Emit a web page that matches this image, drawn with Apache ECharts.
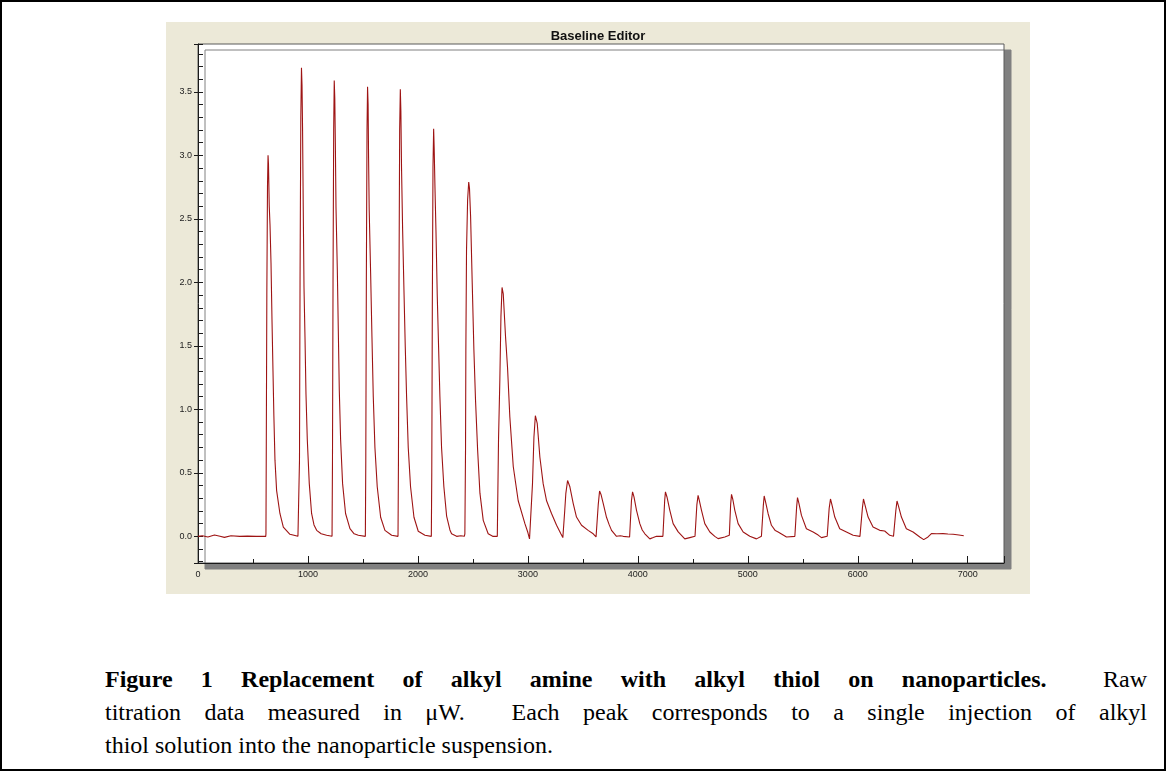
<!DOCTYPE html>
<html><head><meta charset="utf-8">
<script src="https://cdn.jsdelivr.net/npm/echarts@6/dist/echarts.min.js"></script>
<style>
html,body{margin:0;padding:0;background:#fff;width:1166px;height:771px;overflow:hidden;}
#frame{position:absolute;left:0;top:0;width:1166px;height:771px;box-sizing:border-box;border:2px solid #000;}
#panel{position:absolute;left:166px;top:22px;width:864px;height:572px;background:#ECE9D8;}
#chart{position:absolute;left:0;top:0;width:864px;height:572px;}
#caption{position:absolute;left:105px;top:663px;width:1042px;font-family:"Liberation Serif","Times New Roman",serif;font-size:24px;line-height:33px;color:#000;}
.j{text-align:justify;text-align-last:justify;}
</style></head>
<body>
<div id="frame"></div>
<div id="panel"><div id="chart"></div></div>
<div id="caption">
<div class="j"><b>Figure 1 Replacement of alkyl amine with alkyl thiol on nanoparticles.</b>&nbsp; Raw</div>
<div class="j">titration data measured in μW.&nbsp; Each peak corresponds to a single injection of alkyl</div>
<div>thiol solution into the nanoparticle suspension.</div>
</div>
<script>
// Time (s) and heat flow (µW)
const timeSec = [
0,40,90,150,200,240,300,380,450,530,616,
618,621,626,632,637,641,648,655,664,673,682,690,700,715,745,776,836,909,919,
921,923,928,935,941,946,951,957,964,973,982,994,1012,1033,1055,1079,1120,1170,1219,
1221,1223,1228,1234,1239,1244,1249,1255,1267,1276,1285,1297,1315,1342,1382,1420,1458,1522,
1524,1526,1531,1537,1542,1547,1551,1557,1570,1582,1594,1609,1630,1661,1700,1761,1819,
1821,1823,1828,1834,1840,1845,1851,1861,1873,1885,1897,1912,1933,1964,2003,2064,2122,
2124,2126,2131,2137,2143,2148,2155,2164,2176,2188,2200,2215,2236,2261,2291,2306,2352,2390,2422,
2427,2433,2436,2442,2452,2462,2469,2479,2494,2509,2524,2543,2564,2594,2639,2680,2722,
2724,2733,2745,2755,2765,2776,2797,2815,2836,2867,2912,2973,3000,3015,
3024,3042,3055,3068,3085,3109,3139,3170,3215,3261,3300,3318,
3327,3335,3345,3361,3382,3412,3442,3488,3548,3594,3620,
3630,3640,3652,3665,3685,3715,3740,3761,3806,3840,3867,3925,
3933,3942,3952,3965,3988,4018,4040,4064,4109,4140,4170,4228,
4236,4244,4251,4265,4291,4321,4367,4427,4473,4520,
4527,4537,4548,4560,4579,4609,4655,4700,4730,4791,4832,
4836,4844,4852,4864,4882,4912,4958,5018,5079,5124,
5133,5141,5149,5162,5185,5215,5250,5276,5352,5428,
5436,5444,5452,5465,5488,5533,5594,5640,5670,5722,
5730,5740,5752,5765,5791,5836,5897,5958,6020,
6033,6042,6052,6065,6094,6139,6200,6245,6291,6325,
6336,6346,6357,6370,6397,6442,6503,6564,6600,6639,6670,6720,6776,6820,6867,6920,6964
];
const powerUW = [
0.00,0.005,-0.005,0.01,0.0,-0.008,0.005,0.0,0.002,0.0,0.0,
0.02,0.7,1.9,2.75,3.0,2.93,2.6,2.45,2.15,1.70,1.30,0.95,0.60,0.36,0.18,0.073,0.016,0.0,0.0,
0.0,0.6,2.0,3.3,3.69,3.55,3.2,2.6,1.96,1.57,1.12,0.76,0.415,0.18,0.09,0.047,0.02,0.008,0.0,
0.0,0.6,2.0,3.2,3.59,3.45,3.1,2.59,2.10,1.62,1.15,0.76,0.415,0.18,0.06,0.02,0.008,0.0,
0.0,0.6,2.0,3.2,3.54,3.4,3.0,2.57,2.07,1.57,1.10,0.70,0.39,0.15,0.047,0.008,0.0,
0.0,0.6,2.0,3.2,3.52,3.35,2.9,2.41,1.94,1.49,1.10,0.70,0.39,0.15,0.04,0.008,0.0,
0.0,0.5,1.8,2.9,3.21,3.05,2.75,2.41,1.89,1.49,1.10,0.70,0.39,0.16,0.05,0.02,0.0,0.005,0.0,
0.02,0.68,1.47,2.25,2.65,2.79,2.74,2.52,1.99,1.47,1.07,0.68,0.34,0.126,0.02,0.0,0.0,
0.0,0.76,1.23,1.73,1.96,1.91,1.57,1.33,0.94,0.55,0.28,0.10,0.03,-0.02,
-0.02,0.415,0.78,0.95,0.89,0.625,0.415,0.28,0.18,0.087,0.02,-0.01,
-0.01,0.2,0.336,0.44,0.39,0.26,0.152,0.087,0.047,0.02,-0.005,
0.0,0.25,0.357,0.33,0.26,0.15,0.09,0.047,0.0,0.005,0.0,-0.005,
0.0,0.28,0.35,0.31,0.205,0.10,0.05,0.02,-0.02,-0.01,0.0,0.0,
0.0,0.28,0.35,0.31,0.205,0.10,0.035,-0.02,-0.01,0.0,
0.0,0.25,0.323,0.28,0.205,0.10,0.034,0.0,-0.018,-0.005,0.008,
0.008,0.25,0.331,0.29,0.205,0.10,0.034,0.0,-0.02,0.0,
0.0,0.24,0.318,0.27,0.178,0.087,0.045,0.034,-0.005,0.0,
0.0,0.23,0.305,0.26,0.165,0.06,0.034,0.01,-0.01,0.0,
0.0,0.22,0.294,0.25,0.152,0.06,0.034,0.008,0.0,
0.0,0.22,0.294,0.25,0.152,0.074,0.047,0.042,0.008,0.0,
0.0,0.2,0.278,0.24,0.152,0.06,0.034,-0.005,-0.026,-0.005,0.021,0.02,0.021,0.018,0.016,0.01,0.005
];
const xRange = [0, 7330];
const yRange = [-0.21, 3.877];
const chartTitle = 'Baseline Editor';

const points = timeSec.map((t, i) => [t, powerUW[i]]);
const gridBox = {left: 32, top: 22, width: 806, height: 519};
const labelFont = {fontFamily: '"Liberation Sans", Arial, sans-serif', fontSize: 9, color: '#222'};
const ink = '#1a1a1a';

const chart = echarts.init(document.getElementById('chart'), null, {renderer: 'canvas'});
chart.setOption({
  animation: false,
  backgroundColor: 'transparent',
  title: {text: chartTitle, left: 'center', top: 3,
    textStyle: {fontFamily: '"Liberation Sans", Arial, sans-serif', fontSize: 13, fontWeight: 'bold', color: '#111'}},
  grid: [
    Object.assign({show: true, backgroundColor: '#fff', borderColor: '#5a5a5a', borderWidth: 1,
      shadowColor: '#808080', shadowOffsetX: 7, shadowOffsetY: 6, shadowBlur: 0}, gridBox),
    Object.assign({show: false}, gridBox)
  ],
  xAxis: [
    {gridIndex: 0, type: 'value', min: xRange[0], max: xRange[1], interval: 500,
      axisLine: {onZero: false, lineStyle: {color: ink, width: 1}},
      axisTick: {inside: true, length: 4, lineStyle: {color: ink}},
      axisLabel: {show: false}, splitLine: {show: false}},
    {gridIndex: 1, type: 'value', min: xRange[0], max: xRange[1], interval: 1000,
      axisLine: {show: false, onZero: false},
      axisTick: {inside: true, length: 7, lineStyle: {color: ink}},
      axisLabel: Object.assign({margin: 7, formatter: v => (v % 1000 === 0 ? String(v) : '')}, labelFont),
      splitLine: {show: false}}
  ],
  yAxis: [
    {gridIndex: 0, type: 'value', min: yRange[0], max: yRange[1], splitNumber: 40,
      axisLine: {show: true, onZero: false, lineStyle: {color: ink, width: 1}},
      axisTick: {inside: true, length: 5, lineStyle: {color: ink}},
      axisLabel: {show: false}, splitLine: {show: false}},
    {gridIndex: 1, type: 'value', min: yRange[0], max: yRange[1], splitNumber: 8,
      axisLine: {show: false, onZero: false},
      axisTick: {inside: false, length: 4, lineStyle: {color: ink}},
      axisLabel: Object.assign({margin: 6, formatter: v => (Math.abs(v * 2 - Math.round(v * 2)) < 1e-6 ? v.toFixed(1) : '')}, labelFont),
      splitLine: {show: false}}
  ],
  series: [{
    type: 'line', xAxisIndex: 0, yAxisIndex: 0, data: points,
    showSymbol: false, symbol: 'none', smooth: false,
    lineStyle: {color: '#9e1414', width: 1.1}
  }]
});
</script>
</body></html>
